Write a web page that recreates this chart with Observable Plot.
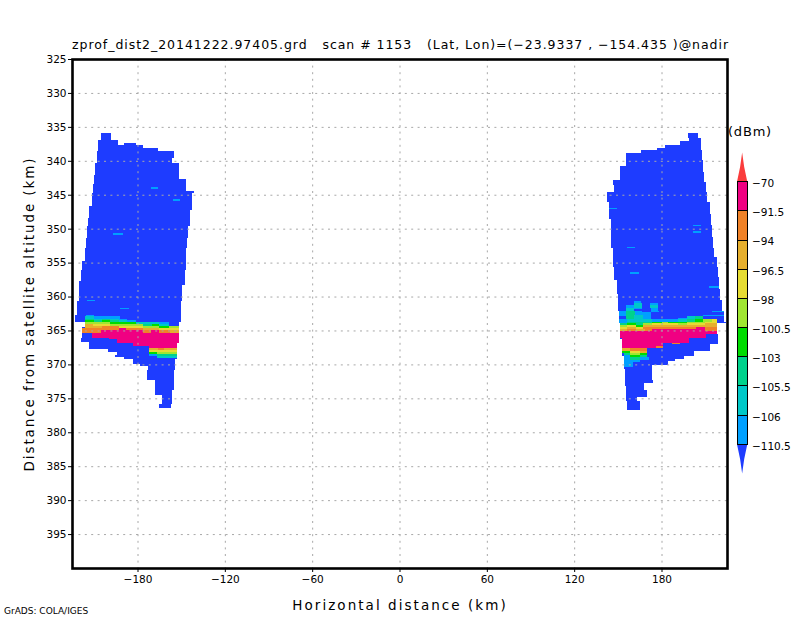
<!DOCTYPE html>
<html>
<head>
<meta charset="utf-8">
<script src="https://cdn.jsdelivr.net/npm/d3@7"></script>
<script src="https://cdn.jsdelivr.net/npm/@observablehq/plot@0.6"></script>
<style>
html,body{margin:0;padding:0;background:#fff;width:800px;height:618px;overflow:hidden}
#wrap{position:relative;width:800px;height:618px;font-family:"DejaVu Sans",sans-serif;color:#000}
#wrap svg{position:absolute;left:0;top:0;background:transparent;font-family:"DejaVu Sans",sans-serif}
.t{position:absolute;white-space:pre;line-height:1}
#title{left:72px;top:39px;font-size:12.5px;letter-spacing:.96px}
#unit{left:728px;top:125px;font-size:13px;letter-spacing:.8px}
#credit{left:4px;top:607px;font-size:9px}
</style>
</head>
<body>
<div id="wrap">
<div class="t" id="title"></div>
<div class="t" id="unit"></div>
<div class="t" id="credit"></div>
</div>
<script>
const titleText = "zprof_dist2_20141222.97405.grd   scan # 1153   (Lat, Lon)=(−23.9337 , −154.435 )@nadir";
const unitText = "(dBm)";
const creditText = "GrADS: COLA/IGES";
const xLabel = "Horizontal distance (km)";
const yLabel = "Distance from satellite altitude (km)";
const xTicks = [-180,-120,-60,0,60,120,180];
const yTicks = [325,330,335,340,345,350,355,360,365,370,375,380,385,390,395];

// contour classes (dBm)
const thresholds = [-110.5,-106,-105.5,-103,-100.5,-98,-96.5,-94,-91.5,-70];
const palette = ["#1e3cff","#00a0ff","#00c8c8","#00d28c","#00dc00","#a0e632","#e6dc32","#e6af2d","#f08228","#f00082","#fa3c3c"];
const bl=-115, az=-108, cy=-105.8, te=-104, gr=-102, li=-99, ye=-97, am=-95, or=-93, pi=-80, re=-60;

// colour bar, top to bottom
const barValues = [pi,or,am,ye,li,gr,te,cy,az];
const barLabels = ["−70","−91.5","−94","−96.5","−98","−100.5","−103","−105.5","−106","−110.5"];

// [alt1, alt2, x1, x2] weak-echo envelope, left swath
const leftEnvelope = [
[335.88,336.91,-205.4,-197.9],[336.91,337.35,-206.8,-193.1],[337.35,337.65,-206.8,-193.1],[337.35,337.65,-189.6,-180.7],
[337.65,338.09,-206.8,-175.9],[338.09,338.53,-206.8,-165.6],[338.53,339.56,-207.5,-154.6],[339.56,340.29,-207.5,-156.0],
[340.29,342.06,-208.9,-151.2],[342.06,342.65,-209.6,-151.8],[342.65,343.38,-209.6,-147.0],[343.38,344.41,-210.9,-147.0],
[344.41,344.71,-210.9,-141.5],[344.71,346.62,-211.6,-142.9],[346.62,347.2,-213.0,-142.9],[347.2,348.38,-213.0,-143.6],
[348.38,349.56,-213.7,-143.6],[349.56,351.32,-214.4,-145.0],[351.32,352.79,-215.7,-145.7],[352.79,353.82,-216.4,-146.4],
[353.82,354.71,-216.4,-147.0],[354.71,356.03,-217.8,-147.0],[356.03,357.65,-218.5,-147.7],[357.65,358.24,-219.9,-147.7],
[358.24,359.41,-219.9,-149.1],[359.41,360.73,-220.5,-149.1],[360.73,362.79,-221.9,-149.8],[362.79,363.82,-222.6,-149.8],
[363.82,364.56,-216.4,-151.2],[364.56,366.18,-217.8,-151.8],[366.18,366.76,-218.5,-151.8],[366.76,367.79,-213.0,-153.2],
[367.79,368.23,-200.6,-153.2],[368.23,368.68,-194.4,-153.2],[368.68,368.97,-195.8,-153.2],[368.97,369.26,-189.6,-153.2],
[369.26,370.0,-183.4,-153.9],[370.0,370.29,-178.6,-153.9],[370.29,370.88,-172.5,-153.9],[370.88,372.35,-173.8,-154.6],
[372.35,373.82,-168.3,-154.6],[373.82,374.56,-168.3,-156.0],[374.56,375.88,-163.5,-156.0],[375.88,376.47,-164.9,-156.7]
];
// [alt1, alt2, x1, x2] weak-echo envelope, right swath
const rightEnvelope = [
[335.88,336.62,197.9,205.4],[336.62,337.06,199.2,206.8],[337.06,337.65,193.0,206.8],[337.65,338.09,182.1,206.8],
[338.09,338.38,177.2,206.8],[338.38,338.82,165.6,207.5],[338.82,339.85,155.9,207.5],[339.85,340.73,155.9,208.8],
[340.73,341.62,151.8,208.8],[341.62,342.79,151.8,209.5],[342.79,343.09,147.0,209.5],[343.09,343.53,147.0,210.9],
[343.53,344.56,147.7,210.9],[344.56,346.03,142.9,211.6],[346.03,347.79,143.6,213.0],[347.79,348.53,143.6,213.7],
[348.53,349.41,145.0,213.7],[349.41,350.0,145.0,215.0],[350.0,351.18,145.6,215.0],[351.18,352.79,145.6,215.7],
[352.79,354.12,147.0,216.4],[354.12,355.59,147.0,217.8],[355.59,357.06,147.7,218.5],[357.06,357.5,147.7,219.8],
[357.5,358.82,149.1,219.8],[358.82,359.7,149.1,220.5],[359.7,360.44,149.8,220.5],[360.44,362.06,149.8,221.9],
[362.06,363.68,151.1,222.6],[363.68,363.97,151.1,224.0],[363.97,365.59,151.8,217.8],[365.59,366.32,151.8,218.5],
[366.32,367.06,153.2,218.5],[367.06,368.09,153.2,213.0],[368.09,368.82,153.2,202.0],[368.82,369.26,153.9,195.8],
[369.26,369.56,153.9,189.6],[369.56,370.15,153.9,184.8],[370.15,370.74,153.9,173.8],[370.74,372.35,154.6,173.8],
[372.35,372.79,154.6,174.5],[372.79,373.24,154.6,168.3],[373.24,373.82,155.9,168.3],[373.82,374.85,155.9,169.7],
[374.85,375.44,155.9,163.5],[375.44,376.76,156.6,164.9]
];
// isolated weak cells [alt1, alt2, x1, x2]
const specks = [
[343.82,344.12,-170.4,-165.6],[345.59,345.88,-155.3,-150.5],[350.59,350.88,-196.5,-190.3],[360.44,360.59,-214.4,-208.9],[361.62,361.91,-191.7,-185.5],
[346.91,347.06,143.6,149.1],[349.41,349.56,201.3,206.8],[350.29,350.59,201.3,206.8],[352.65,352.79,156.6,162.1],[356.32,356.62,158.7,164.2],[358.38,358.67,212.3,219.8]
];
// [alt1, alt2, x1, x2, dBm] surface echo, left swath
const leftEcho = [
[362.65,362.94,-215.7,-209.6,az],
[362.94,363.24,-216.4,-209.6,cy],[362.94,363.24,-209.6,-191.7,az],
[363.24,363.53,-216.4,-210.2,te],[363.24,363.53,-210.2,-204.7,cy],[363.24,363.53,-204.7,-198.6,te],[363.24,363.53,-198.6,-192.4,cy],[363.24,363.53,-192.4,-186.9,az],
[363.53,363.82,-216.4,-210.2,gr],[363.53,363.82,-210.2,-204.7,te],[363.53,363.82,-204.7,-198.6,gr],[363.53,363.82,-198.6,-192.4,te],[363.53,363.82,-192.4,-186.9,cy],[363.53,363.82,-186.9,-180.7,az],
[363.82,364.12,-216.4,-198.6,li],[363.82,364.12,-198.6,-180.7,gr],[363.82,364.12,-180.7,-164.9,cy],[363.82,364.12,-164.9,-158.7,az],
[364.12,364.41,-216.4,-210.9,am],[364.12,364.41,-210.9,-198.6,ye],[364.12,364.41,-198.6,-175.9,li],[364.12,364.41,-175.9,-169.7,te],[364.12,364.41,-169.7,-164.9,gr],[364.12,364.41,-164.9,-158.7,cy],
[364.41,364.71,-216.4,-204.7,am],[364.41,364.71,-204.7,-192.4,or],[364.41,364.71,-192.4,-175.9,ye],[364.41,364.71,-175.9,-164.9,li],[364.41,364.71,-164.9,-158.7,gr],[364.41,364.71,-158.7,-151.2,li],
[364.71,365.0,-217.8,-192.4,or],[364.71,365.0,-192.4,-187.6,pi],[364.71,365.0,-187.6,-175.9,or],[364.71,365.0,-175.9,-164.9,am],[364.71,365.0,-164.9,-151.8,ye],
[365.0,365.44,-217.8,-205.4,or],[365.0,365.44,-205.4,-175.9,pi],[365.0,365.44,-175.9,-170.4,or],[365.0,365.44,-170.4,-164.9,pi],[365.0,365.44,-164.9,-158.0,or],[365.0,365.44,-158.0,-151.8,am],
[365.44,366.18,-211.6,-151.8,pi],[366.18,366.32,-199.9,-151.8,pi],[366.32,366.91,-194.2,-151.8,pi],[366.91,367.35,-182.8,-153.2,pi],[367.35,367.65,-171.8,-153.2,pi],
[367.65,367.94,-171.8,-165.6,am],[367.65,367.94,-165.6,-161.5,or],[367.65,367.94,-161.5,-153.2,am],
[367.94,368.23,-171.8,-153.2,ye],
[368.23,368.53,-171.8,-166.3,gr],[368.23,368.53,-166.3,-153.2,li],
[368.53,368.82,-171.8,-166.3,az],[368.53,368.82,-166.3,-153.2,te],
[368.82,369.0,-166.3,-153.2,cy]
];
// [alt1, alt2, x1, x2, dBm] surface echo, right swath
const rightEcho = [
[360.59,360.88,160.8,165.6,az],[360.88,361.18,160.8,166.9,cy],[361.18,361.62,155.9,160.8,az],[361.18,361.62,160.8,166.9,cy],
[360.88,361.32,171.8,177.9,az],[361.32,361.62,171.8,177.9,cy],[361.62,362.06,155.9,160.8,cy],[361.62,361.91,160.8,166.9,az],[361.62,362.06,173.1,177.9,az],
[362.06,362.35,173.1,178.6,az],[362.06,362.94,151.1,155.9,az],[362.06,362.65,155.9,162.1,te],[362.06,362.65,162.1,166.9,az],[362.35,363.38,166.9,173.1,az],
[362.65,363.38,155.9,161.4,te],[362.65,363.38,161.4,167.6,cy],[363.24,363.38,151.1,156.6,az],
[362.65,362.94,208.8,215.0,az],[362.06,362.35,215.0,222.6,az],[362.65,362.94,215.0,222.6,az],[362.94,363.38,202.7,208.8,te],[362.94,363.38,197.2,202.7,cy],[363.09,363.38,191.0,197.2,az],
[363.38,363.68,151.1,156.6,az],[363.38,363.68,156.6,173.8,cy],[363.38,363.68,173.8,191.0,az],[363.38,363.68,191.0,197.2,cy],[363.38,363.68,197.2,202.7,te],[363.38,363.68,202.7,208.8,gr],[363.38,363.68,208.8,215.0,li],[363.38,363.68,215.0,217.8,ye],
[363.68,363.97,151.1,156.6,az],[363.68,363.97,156.6,173.8,te],[363.68,363.97,173.8,180.0,gr],[363.68,363.97,180.0,184.8,li],[363.68,363.97,184.8,197.2,gr],[363.68,363.97,197.2,210.2,li],[363.68,363.97,210.2,217.8,ye],
[363.97,364.26,151.8,156.6,te],[363.97,364.26,156.6,162.8,gr],[363.97,364.26,162.8,167.6,te],[363.97,364.26,167.6,173.8,li],[363.97,364.26,173.8,191.0,ye],[363.97,364.26,191.0,197.2,li],[363.97,364.26,197.2,210.2,ye],[363.97,364.26,210.2,217.8,am],
[364.26,364.56,151.8,156.6,li],[364.26,364.56,156.6,162.8,ye],[364.26,364.56,162.8,167.6,gr],[364.26,364.56,167.6,217.8,am],
[364.56,364.85,151.8,156.6,ye],[364.56,364.85,156.6,162.8,am],[364.56,364.85,162.8,167.6,ye],[364.56,364.85,167.6,204.0,or],[364.56,364.85,204.0,210.2,pi],[364.56,364.85,210.2,217.8,or],
[364.85,365.15,151.8,156.6,am],[364.85,365.15,156.6,162.8,or],[364.85,365.15,162.8,169.0,am],[364.85,365.15,169.0,173.8,or],[364.85,365.15,173.8,210.2,pi],[364.85,365.15,210.2,217.8,or],
[365.15,365.59,151.8,217.8,pi],[365.59,366.18,151.8,210.9,pi],[366.18,366.91,153.2,199.2,pi],[366.91,367.65,153.2,180.7,pi],
[366.91,367.06,186.9,193.0,or],[367.35,367.65,175.9,180.7,or],
[367.65,368.09,153.2,158.7,am],[367.65,368.09,158.7,169.7,or],
[368.09,368.38,153.2,158.7,gr],[368.09,368.38,158.7,164.9,ye],[368.09,368.38,164.9,169.7,am],
[368.38,368.68,153.9,158.7,te],[368.38,368.68,158.7,164.9,li],[368.38,368.68,164.9,169.7,gr],
[368.68,368.97,153.9,158.7,az],[368.68,368.97,158.7,164.9,gr],[368.68,368.97,164.9,169.7,te],
[368.97,369.41,153.9,158.7,az],[368.97,369.41,158.7,164.9,te],[368.97,369.41,164.9,171.1,az],
[369.41,369.7,153.9,164.9,az],[369.7,370.44,153.9,160.1,az]
];

document.getElementById("title").textContent = titleText;
document.getElementById("unit").textContent = unitText;
document.getElementById("credit").textContent = creditText;

const colorScale = {type:"threshold", domain:thresholds, range:palette};
const cells = (rows, fixed) => Plot.rect(rows, {
  x1:d=>d[2], x2:d=>d[3], y1:d=>d[0], y2:d=>d[1],
  fill: fixed==null ? (d=>d[4]) : (()=>fixed),
  shapeRendering:"crispEdges"
});

const main = Plot.plot({
  width:800, height:618,
  marginLeft:72, marginRight:73, marginTop:59, marginBottom:50,
  style:{background:"transparent"},
  x:{domain:[-225,225], label:null},
  y:{domain:[325,400], reverse:true, label:null},
  color:colorScale,
  marks:[
    cells(leftEnvelope, bl), cells(rightEnvelope, bl), cells(specks, az),
    cells(leftEcho), cells(rightEcho),
    Plot.gridX(xTicks,{stroke:"#a8a8a8",strokeOpacity:1,strokeDasharray:"2 4.6"}),
    Plot.gridY(yTicks,{stroke:"#a8a8a8",strokeOpacity:1,strokeDasharray:"2 4.4"}),
    Plot.frame({stroke:"#000",strokeWidth:2.6}),
    Plot.axisX({ticks:xTicks,tickSize:4,tickPadding:3,fontSize:10.5,label:null,tickFormat:d=>d<0?"−"+(-d):""+d}),
    Plot.axisY({ticks:yTicks,tickSize:4,tickPadding:2,fontSize:10.5,label:null,tickFormat:d=>""+d}),
    Plot.axisX({ticks:[],tickSize:0,label:xLabel,labelAnchor:"center",labelOffset:41,labelArrow:"none",fontSize:13.5}),
    Plot.axisY({ticks:[],tickSize:0,label:yLabel,labelAnchor:"center",labelOffset:48,labelArrow:"none",fontSize:13.5})
  ]
});
document.getElementById("wrap").appendChild(main);
main.querySelectorAll("text").forEach(t=>{
  if (t.textContent===xLabel) t.style.letterSpacing="2.05px";
  if (t.textContent===yLabel) t.style.letterSpacing="1.9px";
});

// colour bar: y runs in class steps, x across the bar
const barRows = barValues.map((v,i)=>({i,v}));
const bar = Plot.plot({
  width:72, height:340,
  margin:0,
  style:{background:"transparent",left:"728px",top:"140px",overflow:"visible"},
  x:{domain:[0,1], range:[9,19.3], axis:null},
  y:{domain:[-1,10], range:[12.5,333.5], axis:null},
  color:colorScale,
  marks:[
    Plot.areaX([{y:-1,a:.5,b:.5},{y:-.5,a:.3,b:.7},{y:0,a:0,b:1}],{y:"y",x1:"a",x2:"b",fill:()=>re,curve:"linear"}),
    Plot.areaX([{y:9,a:0,b:1},{y:9.5,a:.3,b:.7},{y:10,a:.5,b:.5}],{y:"y",x1:"a",x2:"b",fill:()=>bl,curve:"linear"}),
    Plot.rect(barRows,{x1:()=>0,x2:()=>1,y1:d=>d.i,y2:d=>d.i+1,fill:"v",stroke:"#000",strokeWidth:1,shapeRendering:"crispEdges"}),
    Plot.text(barLabels,{x:()=>1.4,y:(d,i)=>i,dy:1.5,text:d=>d,textAnchor:"start",fontSize:10.5,fill:"#000"})
  ]
});
document.getElementById("wrap").appendChild(bar);
</script>
</body>
</html>
